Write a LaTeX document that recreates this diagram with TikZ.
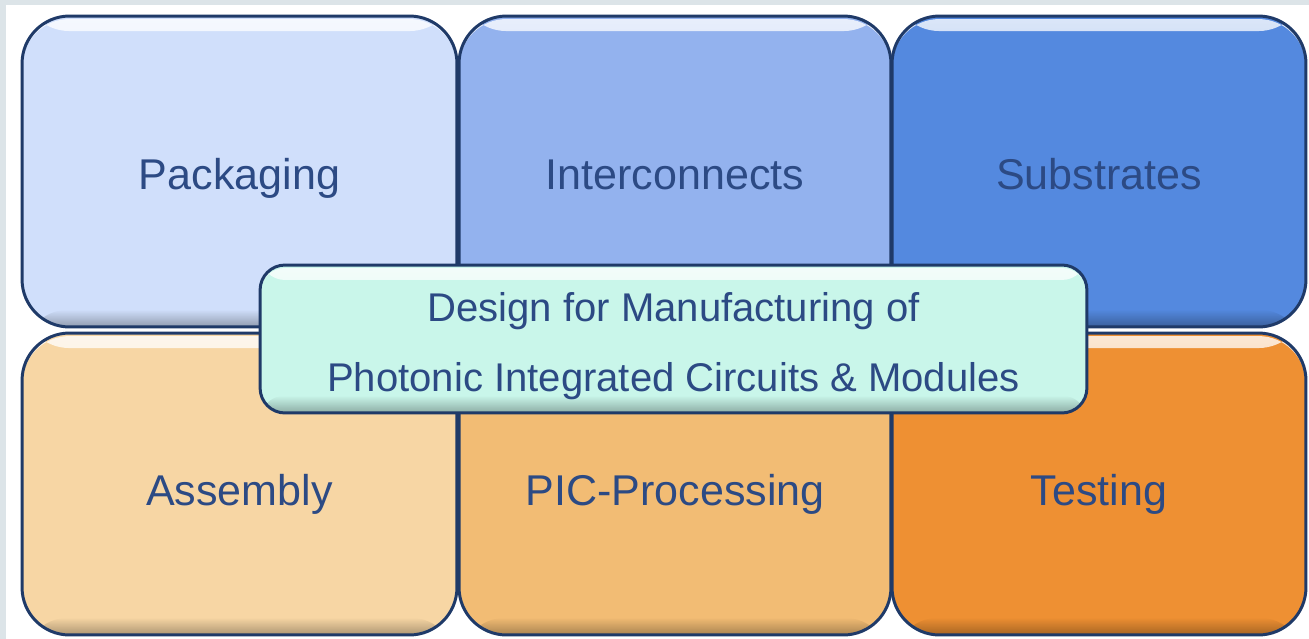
\documentclass[tikz,border=0pt]{standalone}
\usepackage{fontspec}
\setmainfont{Liberation Sans}
\usetikzlibrary{fadings}

\definecolor{frame}{HTML}{1F3A68}
\definecolor{label}{HTML}{2C4A84}
\definecolor{pack}{HTML}{D0DFFB}
\definecolor{inter}{HTML}{93B2EE}
\definecolor{subst}{HTML}{5489DF}
\definecolor{assem}{HTML}{F7D6A4}
\definecolor{picproc}{HTML}{F2BC74}
\definecolor{test}{HTML}{EE9033}
\definecolor{dfm}{HTML}{C9F6EA}
\definecolor{edge}{HTML}{DCE4E8}

\begin{document}
\begin{tikzpicture}[x=0.02cm, y=-0.02cm,
    gloss/.style={path picture={
        \fill[white, opacity=0.8, path fading=south] ([yshift=-0.06cm]path picture bounding box.north west)
            rectangle ([yshift=-0.3cm]path picture bounding box.north east);
        \fill[black, opacity=0.3, path fading=north] (path picture bounding box.south west)
            rectangle ([yshift=0.35cm]path picture bounding box.south east);
    }},
    field/.style={rectangle, draw=frame, line width=1.7pt, rounded corners=0.95cm,
        inner sep=0pt, text=label, font=\fontsize{24.5}{30}\selectfont,
        text depth=0pt, gloss},
    upper/.style={field, minimum height=6.22cm, text height=0.74cm},
    lower/.style={field, minimum height=6.04cm, text height=0.84cm},
    banner/.style={rectangle, draw=frame, line width=1.7pt, rounded corners=0.5cm,
        fill=dfm, text=label, align=center, inner sep=0pt,
        minimum width=16.54cm, minimum height=2.96cm,
        font=\fontsize{22.8}{39.8}\selectfont, gloss}
]
\useasboundingbox (0,0) rectangle (1309,639);
\fill[edge] (0,0) rectangle (1309,639);
\fill[white] (6,5) rectangle (1309,639);

\node (Packaging) [upper, fill=pack, minimum width=8.7cm] at (239.5,171.5) {Packaging};
\node (Interconnects) [upper, fill=inter, minimum width=8.64cm] at (675,171.5) {Interconnects};
\node (Substrates) [upper, fill=subst, minimum width=8.28cm] at (1099,171.5) {Substrates};

\node (Assembly) [lower, fill=assem, minimum width=8.7cm] at (239.5,484) {Assembly};
\node (Processing) [lower, fill=picproc, minimum width=8.64cm] at (675,484) {PIC-Processing};
\node (Testing) [lower, fill=test, minimum width=8.28cm] at (1099,484) {Testing};

\node (DFM) [banner] at (673.5,339)
    {\rule{0pt}{0.86cm}Design for Manufacturing of\\Photonic Integrated Circuits \& Modules};

\end{tikzpicture}
\end{document}
